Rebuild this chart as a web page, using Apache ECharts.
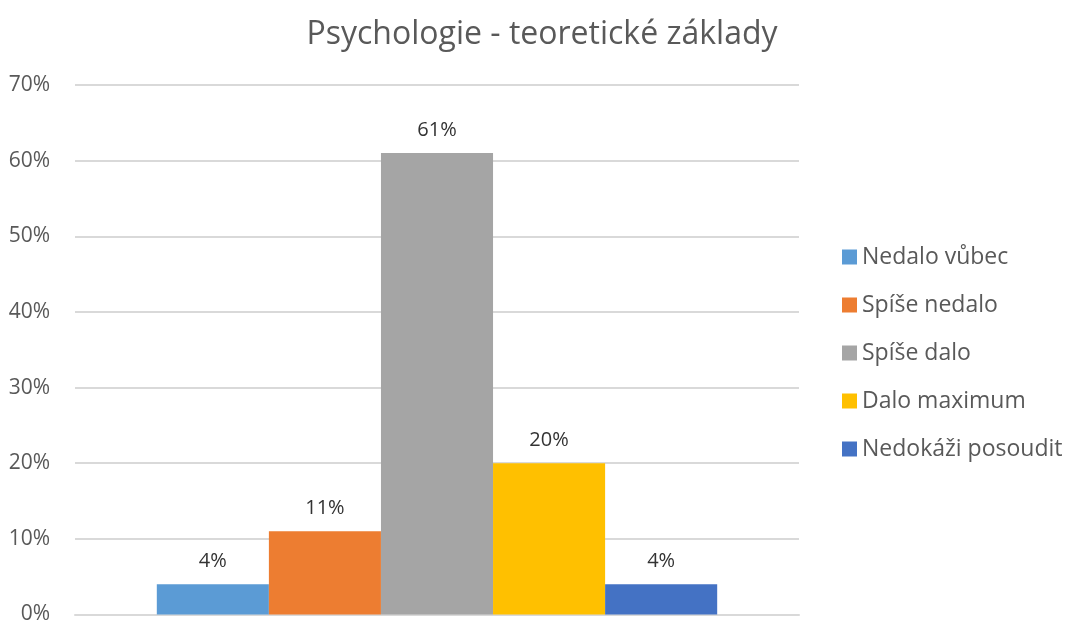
<!DOCTYPE html>
<html>
<head>
<meta charset="utf-8">
<script src="https://cdn.jsdelivr.net/npm/echarts@6/dist/echarts.min.js"></script>
<style>html,body{margin:0;padding:0;background:#fff;}#chart{width:1068px;height:625px;}</style>
</head>
<body>
<div id="chart"></div>
<script>
const titleText = 'Psychologie - teoretické základy';
const categories = [''];
const seriesNames = ['Nedalo vůbec', 'Spíše nedalo', 'Spíše dalo', 'Dalo maximum', 'Nedokáži posoudit'];
const seriesValues = [4, 11, 61, 20, 4];
const seriesColors = ['#5B9BD5', '#ED7D31', '#A5A5A5', '#FFC000', '#4472C4'];
const yTicks = {min: 0, max: 70, interval: 10};

const FONT = '"Open Sans", sans-serif';
const chart = echarts.init(document.getElementById('chart'));
chart.setOption({
  animation: false,
  title: {
    text: titleText, left: 542, top: 19, textAlign: 'center', padding: 0,
    textStyle: {fontFamily: FONT, fontSize: 32, fontWeight: 'normal', color: '#595959'}
  },
  legend: {
    orient: 'vertical', left: 842, top: 245, itemWidth: 15, itemHeight: 15, itemGap: 24,
    padding: 0, icon: 'rect',
    textStyle: {fontFamily: FONT, fontSize: 23, lineHeight: 24, color: '#595959'},
    data: seriesNames
  },
  grid: {left: 75, right: 269, top: 85, bottom: 6},
  xAxis: {
    type: 'category', data: categories,
    axisLine: {show: true, lineStyle: {color: '#D9D9D9', width: 2}},
    axisTick: {show: false}, axisLabel: {show: false}
  },
  yAxis: {
    type: 'value', min: yTicks.min, max: yTicks.max, interval: yTicks.interval,
    axisLine: {show: false}, axisTick: {show: false},
    splitLine: {lineStyle: {color: '#D9D9D9', width: 2}},
    axisLabel: {fontFamily: FONT, fontSize: 21, color: '#595959', margin: 25, formatter: '{value}%'}
  },
  series: seriesNames.map((n, i) => ({
    name: n, type: 'bar', data: [seriesValues[i]],
    itemStyle: {color: seriesColors[i]},
    barGap: '0%', barCategoryGap: '22.6%',
    label: {show: true, position: 'top', distance: 13, formatter: '{c}%',
      fontFamily: FONT, fontSize: 20, color: '#333333'}
  }))
});
</script>
</body>
</html>
